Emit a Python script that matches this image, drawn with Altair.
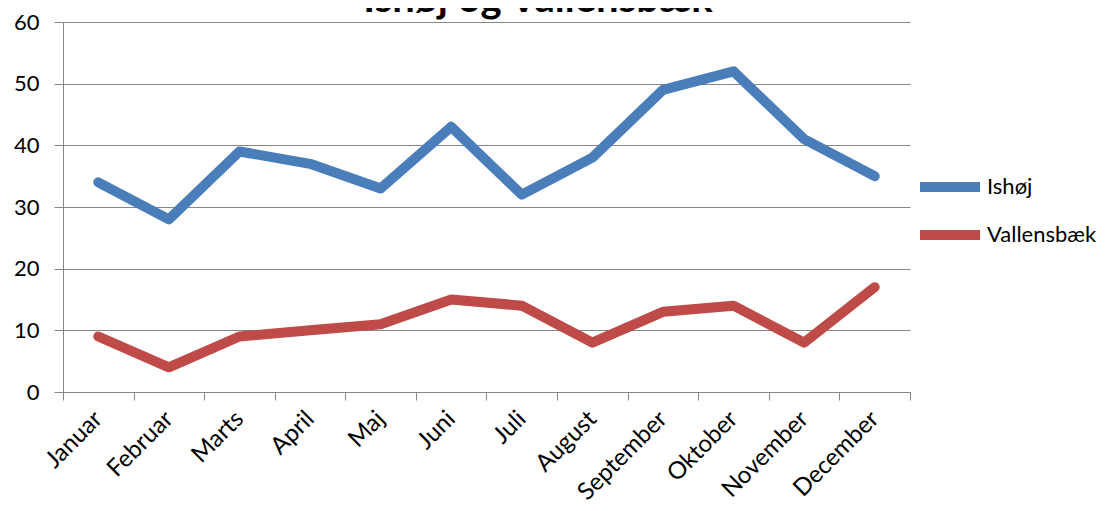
import altair as alt
import pandas as pd

months = ["Januar", "Februar", "Marts", "April", "Maj", "Juni", "Juli",
          "August", "September", "Oktober", "November", "December"]
ishoj = [34, 28, 39, 37, 33, 43, 32, 38, 49, 52, 41, 35]
vallensbaek = [9, 4, 9, 10, 11, 15, 14, 8, 13, 14, 8, 17]
series = ["Ishøj", "Vallensbæk"]
colors = ["#4A7EBB", "#BE4B48"]
y_ticks = [0, 10, 20, 30, 40, 50, 60]
title_text = "Ishøj og Vallensbæk"

rows = []
for i, m in enumerate(months):
    rows.append({"Måned": m, "Serie": series[0], "Værdi": ishoj[i]})
    rows.append({"Måned": m, "Serie": series[1], "Værdi": vallensbaek[i]})
df = pd.DataFrame(rows)

W, H = 847, 370
FONT = "Lato"
GRAY = "#868686"

lines = alt.Chart(df).mark_line(
    strokeWidth=10, strokeCap="round", strokeJoin="round"
).encode(
    x=alt.X(
        "Måned:N", sort=months,
        scale=alt.Scale(type="band", paddingInner=0, paddingOuter=0),
        axis=alt.Axis(
            title=None, tickBand="extent", labelAngle=-45, labelAlign="right",
            labelBaseline="middle", labelPadding=15, tickSize=8,
            domainColor=GRAY, tickColor=GRAY, labelFontSize=24,
            labelColor="black", grid=False, labelFont=FONT,
        ),
    ),
    y=alt.Y(
        "Værdi:Q",
        scale=alt.Scale(domain=[0, 60], nice=False, zero=True),
        axis=alt.Axis(
            values=y_ticks, title=None, tickSize=9, labelPadding=15,
            grid=True, gridColor=GRAY, domainColor=GRAY, tickColor=GRAY,
            labelFontSize=22, labelColor="black", labelFont=FONT,
        ),
    ),
    color=alt.Color(
        "Serie:N",
        scale=alt.Scale(domain=series, range=colors),
        legend=alt.Legend(
            title=None, orient="none", legendX=852, legendY=145,
            symbolType="M-1,0H3", symbolSize=900, symbolStrokeWidth=10,
            labelFontSize=22, labelFont=FONT, labelColor="black",
            labelOffset=32, rowPadding=8,
        ),
    ),
)

title = alt.Chart(pd.DataFrame({"t": [title_text]})).mark_text(
    fontSize=40, fontWeight="bold", font=FONT, baseline="alphabetic",
    align="center", color="black",
).encode(x=alt.value(475), y=alt.value(-10), text="t:N")

chart = alt.layer(lines, title).properties(
    width=W, height=H,
    autosize=alt.AutoSizeParams(type="none"),
    padding={"left": 55, "top": 14, "right": 196, "bottom": 118},
).configure_view(stroke=None)

chart.save("out.html", embed_options={"renderer": "svg", "actions": False})
